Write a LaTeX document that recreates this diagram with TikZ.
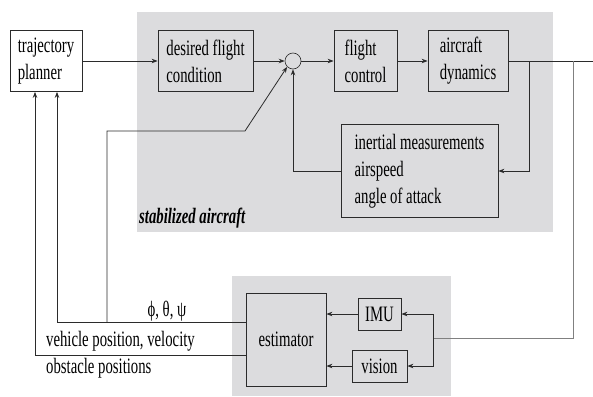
\documentclass[tikz,border=0pt]{standalone}
\usepackage{fontspec}
\setmainfont[FakeStretch=0.67]{Liberation Serif}
\usetikzlibrary{arrows.meta,positioning}
\definecolor{ink}{HTML}{2B2B2B}
\definecolor{wiregray}{HTML}{808080}
\definecolor{panelgray}{HTML}{DCDCDE}
\tikzset{
  block/.style={draw=ink,line width=0.8pt,align=left,inner sep=0pt,
                font=\fontsize{22}{27}\selectfont},
  sumnode/.style={circle,draw=ink,line width=0.6pt,minimum size=16pt,
                  inner sep=0pt},
  panel/.style={fill=panelgray,draw=none},
  wire/.style={line width=0.8pt,draw=ink},
  graywire/.style={line width=0.8pt,draw=wiregray},
  arr/.style={-{Stealth[length=6pt,width=4.5pt]},line width=0.8pt,
              draw=ink},
  lbl/.style={font=\fontsize{22}{27}\selectfont,inner sep=0pt}
}
\begin{document}
\begin{tikzpicture}[x=1pt,y=-1pt]
    \path[use as bounding box] (0,0) rectangle (593,396);
    \fill[panel] (137,12) rectangle (553,232);
    \fill[panel] (232,276) rectangle (451,396);

    % stabilized aircraft loop
    \node[block,minimum width=72pt,minimum height=61pt] (planner) at (46,61)
      {trajectory\\planner};
    \node[block,minimum width=95pt,minimum height=61pt] (desired) at (205.5,61)
      {desired flight\\condition};
    \node[sumnode] (sum) at (293,61) {};
    \node[block,minimum width=63pt,minimum height=61pt] (control) at (365.5,61)
      {flight\\control};
    \node[block,minimum width=80pt,minimum height=61pt] (dynamics) at (468,61)
      {aircraft\\dynamics};
    \node[block,minimum width=157pt,minimum height=93pt] (inertial) at (419.5,171)
      {inertial measurements\\airspeed\\angle of attack};
    \node[lbl,anchor=west,font=\fontsize{22}{27}\selectfont\bfseries\itshape]
      (stablbl) at (139,218) {stabilized aircraft};

    % estimation
    \node[block,minimum width=80pt,minimum height=93pt] (estimator) at (286,339.5)
      {estimator};
    \node[block,minimum width=43pt,minimum height=32pt] (imu) at (379.5,314)
      {IMU};
    \node[block,minimum width=55pt,minimum height=32pt] (vision) at (379.5,366)
      {vision};

    \coordinate (out) at (593,61);
    \coordinate (tap) at (573,61);
    \coordinate (fb) at (529,61);
    \coordinate (split) at (433,338);
    \coordinate (attout) at (246,322);
    \coordinate (posout) at (246,355);
    \coordinate (k1) at (107,322);
    \coordinate (k2) at (245,131);

    \draw[arr] (planner) -- (desired);
    \draw[arr] (desired) -- (sum);
    \draw[arr] (sum) -- (control);
    \draw[arr] (control) -- (dynamics);
    \draw[wire] (dynamics) -- (out);
    \draw[arr] (fb) |- (inertial.east);
    \draw[arr] (inertial.west) -| (sum.south);

    \draw[graywire] (tap) |- (split);
    \draw[arr] (split) |- (imu);
    \draw[arr] (split) |- (vision);
    \draw[arr] (imu.west) -- (imu.west -| estimator.east);
    \draw[arr] (vision.west) -- (vision.west -| estimator.east);

    \draw[arr] (attout) -| ([xshift=11pt]planner.south);
    \draw[arr] (posout) -| ([xshift=-11pt]planner.south);
    \draw[arr] (k1) |- (k2) -- (sum.south west);

    \node[lbl] (angles) at (167,311) {ϕ, θ, ψ};
    \node[lbl,anchor=west] (vehlbl) at (46,341) {vehicle position, velocity};
    \node[lbl,anchor=west] (obslbl) at (46,368) {obstacle positions};
  \end{tikzpicture}
\end{document}
